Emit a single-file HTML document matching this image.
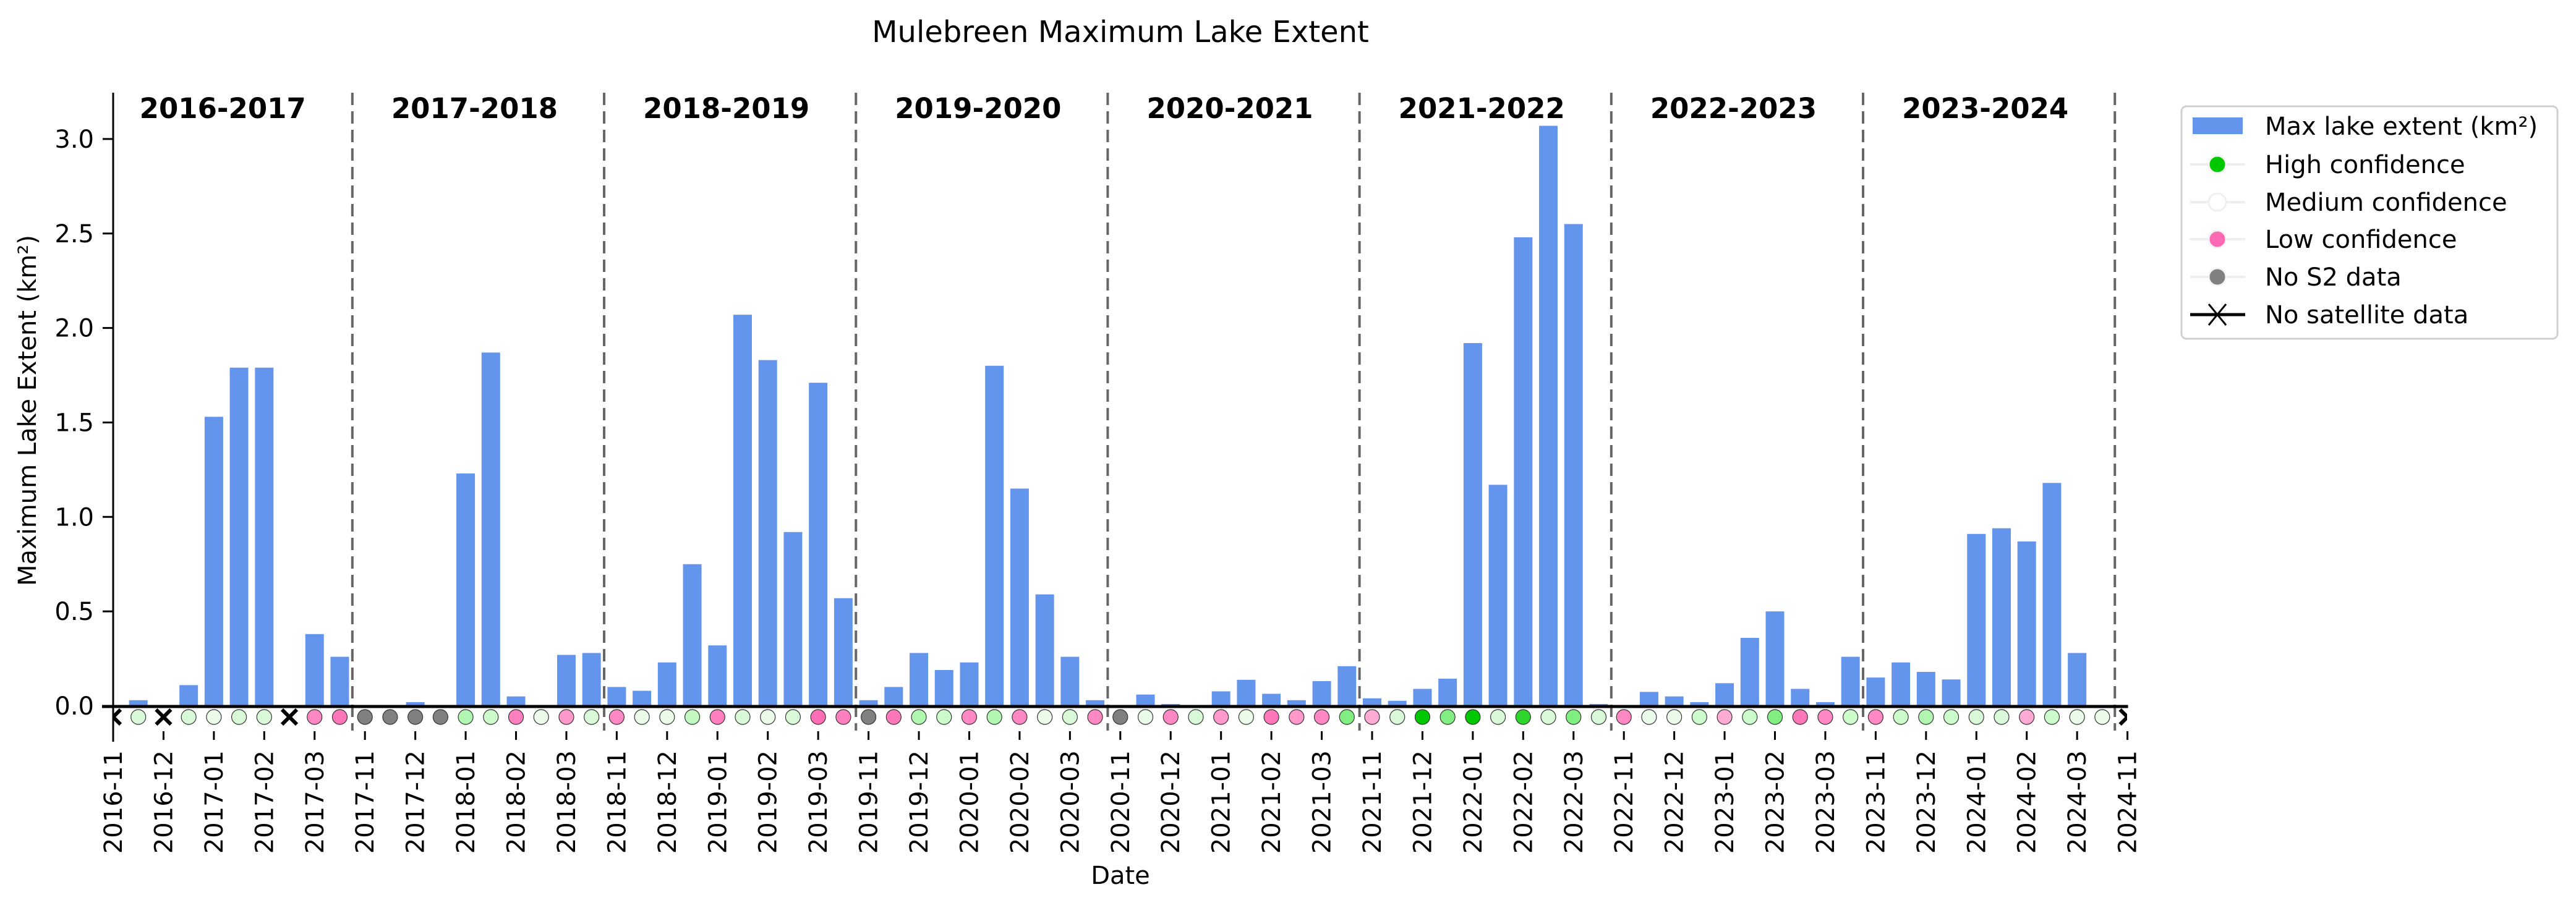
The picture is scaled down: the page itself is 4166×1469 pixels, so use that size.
<!DOCTYPE html>
<html><head><meta charset="utf-8"><style>
html,body{margin:0;padding:0;background:#fff;}
svg{display:block;font-family:"DejaVu Sans","Liberation Sans",sans-serif;}
</style></head><body>
<svg id="c" width="4166" height="1469" xmlns="http://www.w3.org/2000/svg">
<rect width="4166" height="1469" fill="#fff"/>
<text x="1812" y="68" font-size="48" text-anchor="middle">Mulebreen Maximum Lake Extent</text>
<defs><clipPath id="ax"><rect x="183" y="140" width="3257" height="1100"/></clipPath></defs>
<g id="g"></g>
<text transform="translate(58,664) rotate(-90)" font-size="40" text-anchor="middle">Maximum Lake Extent (km²)</text>
<text x="1812" y="1430" font-size="40" text-anchor="middle">Date</text>
<rect x="3528" y="172" width="608" height="376" rx="8" fill="#fff" stroke="#d0d0d0" stroke-width="3"/>
<rect x="3546" y="190" width="81" height="27" fill="#6495ED"/>
<text x="3663" y="218" font-size="40">Max lake extent (km²)</text>
<line x1="3542" y1="266" x2="3631" y2="266" stroke="#eee" stroke-width="4"/>
<circle cx="3586" cy="266" r="14" fill="#00c800" stroke="#f4f4f4" stroke-width="3"/>
<text x="3663" y="280" font-size="40">High confidence</text>
<line x1="3542" y1="327" x2="3631" y2="327" stroke="#eee" stroke-width="4"/>
<circle cx="3586" cy="327" r="14" fill="#fff" stroke="#f0f0f0" stroke-width="3"/>
<text x="3663" y="341" font-size="40">Medium confidence</text>
<line x1="3542" y1="387" x2="3631" y2="387" stroke="#eee" stroke-width="4"/>
<circle cx="3586" cy="387" r="14" fill="#ff69b4" stroke="#f4f4f4" stroke-width="3"/>
<text x="3663" y="401" font-size="40">Low confidence</text>
<line x1="3542" y1="448" x2="3631" y2="448" stroke="#eee" stroke-width="4"/>
<circle cx="3586" cy="448" r="14" fill="#808080" stroke="#f4f4f4" stroke-width="3"/>
<text x="3663" y="462" font-size="40">No S2 data</text>
<line x1="3542" y1="509" x2="3631" y2="509" stroke="#000" stroke-width="5"/>
<path d="M3572 492 L3600 526 M3600 492 L3572 526" stroke="#000" stroke-width="3"/>
<text x="3663" y="523" font-size="40">No satellite data</text>
</svg>
<script>
var NS="http://www.w3.org/2000/svg",g=document.getElementById('g');
function el(t,a,txt){var e=document.createElementNS(NS,t);for(var k in a)e.setAttribute(k,a[k]);if(txt!=null)e.textContent=txt;g.appendChild(e);return e;}
var vals=[0,.03,0,.11,1.53,1.79,1.79,0,.38,.26,
0,0,.02,0,1.23,1.87,.05,0,.27,.28,
.10,.08,.23,.75,.32,2.07,1.83,.92,1.71,.57,
.03,.10,.28,.19,.23,1.80,1.15,.59,.26,.03,
0,.06,.01,0,.077,.138,.064,.03,.131,.21,
.04,.027,.09,.144,1.92,1.17,2.48,3.07,2.55,.01,
0,.074,.05,.02,.12,.36,.50,.09,.02,.26,
.15,.23,.18,.14,.91,.94,.87,1.18,.28,.005];
var G='#808080';
var cols=['X','#d8f8d8','X','#d8f8d8','#eafbea','#d8f8d8','#d8f8d8','X','#ff88c4','#ff77bb',
G,G,G,G,'#b0f5b0','#ccfccc','#ff7fbf','#eafbea','#ff99cc','#d8f8d8',
'#ff88c4','#eafbea','#eafbea','#c0f8c0','#ff7fbf','#d8f8d8','#eafbea','#d8f8d8','#ff6eb4','#ff7fbf',
G,'#ff77bb','#b0f5b0','#ccfccc','#ff88c4','#b0f5b0','#ff88c4','#eafbea','#d8f8d8','#ff88c4',
G,'#eafbea','#ff88c4','#d8f8d8','#ff99cc','#eafbea','#ff77bb','#ff99cc','#ff88c4','#80ee80',
'#ffaad4','#d8f8d8','#00c800','#80ee80','#00c800','#d8f8d8','#2dd62d','#d8f8d8','#80ee80','#d8f8d8',
'#ff88c4','#eafbea','#eafbea','#ccfccc','#ffaad4','#ccfccc','#80ee80','#ff77bb','#ff88c4','#ccfccc',
'#ff88c4','#ccfccc','#b0f5b0','#ccfccc','#d8f8d8','#d8f8d8','#ffaad4','#ccfccc','#eafbea','#eafbea','X'];
var X0=183,S=40.72,Y0=1142,K=305.7;
function xs(i){return X0+S*i;}
for(var i=0;i<80;i++){if(vals[i]>0){var h=vals[i]*K;el('rect',{x:xs(i)-15,y:Y0-h,width:30,height:h,fill:'#6495ED'});}}
for(var s=1;s<=8;s++){var x=xs(10*s-0.5);el('line',{x1:x,y1:150,x2:x,y2:1182,stroke:'#666',"stroke-width":4,"stroke-dasharray":"20,10"});}
var yrs=['2016-2017','2017-2018','2018-2019','2019-2020','2020-2021','2021-2022','2022-2023','2023-2024'];
for(var s=0;s<8;s++)el('text',{x:xs(10*s+4.5)-6,y:191,"font-size":45,"font-weight":"bold","text-anchor":"middle"},yrs[s]);
el('line',{x1:183,y1:150,x2:183,y2:1200,stroke:'#000',"stroke-width":3});
el('line',{x1:165,y1:Y0+1,x2:xs(80)+1,y2:Y0+1,stroke:'#000',"stroke-width":5});
for(var t=0;t<=6;t++){var v=t*0.5,y=Y0-v*K;el('line',{x1:166,y1:y,x2:183,y2:y,stroke:'#000',"stroke-width":3});
el('text',{x:152,y:y+14,"font-size":40,"text-anchor":"end"},v.toFixed(1));}
var cg=document.createElementNS(NS,'g');cg.setAttribute('clip-path','url(#ax)');g.appendChild(cg);
for(var i=0;i<=80;i++){var x=xs(i),c=cols[i],e;
if(c=='X'){e=document.createElementNS(NS,'path');e.setAttribute('d','M'+(x-12)+' 1148 L'+(x+12)+' 1172 M'+(x+12)+' 1148 L'+(x-12)+' 1172');e.setAttribute('stroke','#000');e.setAttribute('stroke-width',6);}
else{e=document.createElementNS(NS,'circle');e.setAttribute('cx',x);e.setAttribute('cy',1160);e.setAttribute('r',12);e.setAttribute('fill',c);e.setAttribute('stroke','#333');e.setAttribute('stroke-width',1.2);}
cg.appendChild(e);}
var mon=['11','12','01','02','03'];
for(var s=0;s<=8;s++){for(var m=0;m<5;m++){if(s==8&&m>0)break;var i=10*s+2*m,x=xs(i);
var yr=2016+s+(m>=2?1:0);
el('line',{x1:x,y1:1183,x2:x,y2:1197,stroke:'#000',"stroke-width":3});
el('text',{transform:'translate('+(x+14)+',1214) rotate(-90)',"font-size":40,"text-anchor":"end"},yr+'-'+mon[m]);}}
</script>
</body></html>
